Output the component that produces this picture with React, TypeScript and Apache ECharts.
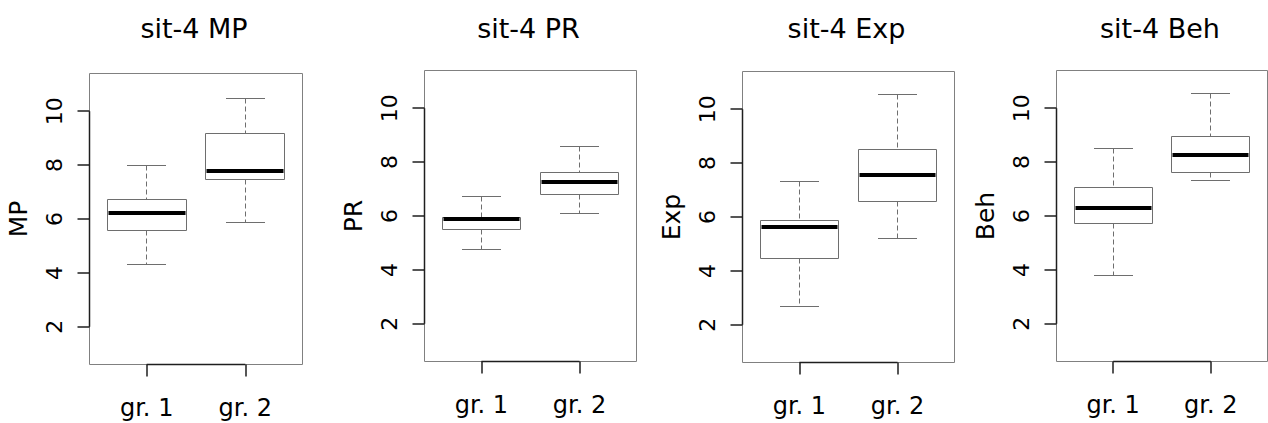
import React, { useEffect, useRef } from "react";
import * as echarts from "echarts";

// ---- data ----
const groups = ["gr. 1", "gr. 2"];
const panelTitles = ["sit-4 MP", "sit-4 PR", "sit-4 Exp", "sit-4 Beh"];
const yNames = ["MP", "PR", "Exp", "Beh"];
const yTicks = [2, 4, 6, 8, 10];
const xTicks = [1, 2];
const xLim = [0.5, 2.5];
const yLim = [1, 11];
// each row: [lower whisker, Q1, median, Q3, upper whisker]
const mpStats = [
  [4.3, 5.58, 6.22, 6.72, 7.97],
  [5.88, 7.47, 7.78, 9.19, 10.46],
];
const prStats = [
  [4.77, 5.51, 5.88, 5.96, 6.72],
  [6.11, 6.79, 7.28, 7.61, 8.59],
];
const expStats = [
  [2.66, 4.47, 5.62, 5.88, 7.31],
  [5.21, 6.56, 7.57, 8.51, 10.53],
];
const behStats = [
  [3.79, 5.74, 6.31, 7.07, 8.5],
  [7.3, 7.62, 8.25, 8.96, 10.53],
];
const allStats = [mpStats, prStats, expStats, behStats];

// ---- layout / style ----
const panelLayout = [
  { left: 89.5, top: 73.5, width: 213, height: 291 },
  { left: 424.5, top: 70.5, width: 212, height: 291 },
  { left: 742.5, top: 71.5, width: 212, height: 291 },
  { left: 1056.5, top: 70.5, width: 211, height: 291 },
];
const FONT = "DejaVu Sans";
const GREY = "#6e6e6e";
const AXIS = "#1e1e1e";
const BOXW = 0.8;
const CAPW = 0.4;

const ext = (r: number[]) => {
  const d = (r[1] - r[0]) * 0.04;
  return [r[0] - d, r[1] + d];
};

const crisp = (v: number) => Math.round(v - 0.5) + 0.5;

export default function App() {
  const ref = useRef<HTMLDivElement>(null);
  useEffect(() => {
    if (!ref.current) return;
    const chart = echarts.init(ref.current, undefined, { renderer: "svg" });
    const [xMin, xMax] = ext(xLim);
    const [yMin, yMax] = ext(yLim);

    const boxSeries = allStats.map((stats, i) => ({
      type: "custom",
      xAxisIndex: i,
      yAxisIndex: i,
      silent: true,
      clip: false,
      encode: { x: 0, y: [1, 2, 3, 4, 5] },
      data: stats.map((s, g) => [g + 1, ...s]),
      renderItem: (params: any, api: any) => {
        const x = api.value(0);
        const lo = api.value(1);
        const q1 = api.value(2);
        const med = api.value(3);
        const q3 = api.value(4);
        const hi = api.value(5);
        const tl = api.coord([x - BOXW / 2, q3]);
        const br = api.coord([x + BOXW / 2, q1]);
        const cx = crisp(api.coord([x, med])[0]);
        const pMed = api.coord([x, med]);
        const pLo = api.coord([x, lo]);
        const pHi = api.coord([x, hi]);
        const capL = Math.round(api.coord([x - CAPW / 2, lo])[0]);
        const capR = Math.round(api.coord([x + CAPW / 2, lo])[0]);
        const l = crisp(tl[0]);
        const r = crisp(br[0]);
        const t = crisp(tl[1]);
        const b = crisp(br[1]);
        const thin = { stroke: GREY, lineWidth: 1 };
        const dash = { stroke: GREY, lineWidth: 1, lineDash: [5, 3] };
        return {
          type: "group",
          children: [
            { type: "line", shape: { x1: cx, y1: crisp(pHi[1]), x2: cx, y2: t }, style: dash },
            { type: "line", shape: { x1: cx, y1: b, x2: cx, y2: crisp(pLo[1]) }, style: dash },
            { type: "line", shape: { x1: capL, y1: crisp(pHi[1]), x2: capR, y2: crisp(pHi[1]) }, style: thin },
            { type: "line", shape: { x1: capL, y1: crisp(pLo[1]), x2: capR, y2: crisp(pLo[1]) }, style: thin },
            { type: "rect", shape: { x: l, y: t, width: r - l, height: b - t }, style: { fill: "#fff", stroke: GREY, lineWidth: 1 } },
            { type: "line", shape: { x1: l + 1, y1: Math.round(pMed[1]), x2: r - 1, y2: Math.round(pMed[1]) }, style: { stroke: "#000", lineWidth: 4 } },
          ],
        };
      },
    }));

    const axisSeries = allStats.map((_, i) => ({
      type: "custom",
      xAxisIndex: i,
      yAxisIndex: i,
      silent: true,
      clip: false,
      z: 10,
      data: [[1, 6]],
      renderItem: (params: any, api: any) => {
        const a = api.coord([xMin, yTicks[0]]);
        const b = api.coord([xMin, yTicks[yTicks.length - 1]]);
        const c = api.coord([xTicks[0], yMin]);
        const d = api.coord([xTicks[xTicks.length - 1], yMin]);
        const st = { stroke: AXIS, lineWidth: 1.5, fill: null };
        const xl = crisp(a[0]);
        const yb = crisp(c[1]);
        return {
          type: "group",
          children: [
            { type: "polyline", shape: { points: [[xl, a[1]], [xl, b[1]]] }, style: st },
            { type: "polyline", shape: { points: [[c[0], yb], [d[0], yb]] }, style: st },
          ],
        };
      },
    }));

    const option: any = {
      animation: false,
      backgroundColor: "#fff",
      textStyle: { fontFamily: FONT },
      title: panelTitles.map((t, i) => ({
        text: t,
        left: panelLayout[i].left + panelLayout[i].width / 2 - 7,
        top: 10,
        textAlign: "center",
        textStyle: { fontFamily: FONT, fontSize: 27, fontWeight: "normal", color: "#000" },
      })),
      grid: panelLayout.map((p) => ({
        left: p.left,
        top: p.top,
        width: p.width,
        height: p.height,
        show: true,
        borderColor: "#808080",
        borderWidth: 1,
        backgroundColor: "transparent",
        containLabel: false,
      })),
      xAxis: panelLayout.map((_, i) => ({
        type: "value",
        gridIndex: i,
        min: xMin,
        max: xMax,
        axisLine: { show: false },
        splitLine: { show: false },
        axisTick: { show: true, length: 12, customValues: xTicks, lineStyle: { color: AXIS, width: 1.5 } },
        axisLabel: {
          customValues: xTicks,
          formatter: (v: number) => groups[Math.round(v) - 1],
          margin: 31,
          fontSize: 24,
          fontFamily: FONT,
          color: "#000",
        },
      })),
      yAxis: panelLayout.map((_, i) => ({
        type: "value",
        gridIndex: i,
        min: yMin,
        max: yMax,
        name: yNames[i],
        nameLocation: "middle",
        nameRotate: 90,
        nameGap: 59,
        nameTextStyle: { fontFamily: FONT, fontSize: 25, color: "#000" },
        axisLine: { show: false },
        splitLine: { show: false },
        axisTick: { show: true, length: 12, customValues: yTicks, lineStyle: { color: AXIS, width: 1.5 } },
        axisLabel: {
          customValues: yTicks,
          rotate: 90,
          margin: 24,
          fontSize: 22,
          fontFamily: FONT,
          color: "#000",
        },
      })),
      series: [...boxSeries, ...axisSeries],
    };
    chart.setOption(option);
    return () => chart.dispose();
  }, []);
  return (
    <div
      ref={ref}
      style={{ position: "absolute", left: 0, top: 0, width: 1268, height: 423 }}
    />
  );
}
